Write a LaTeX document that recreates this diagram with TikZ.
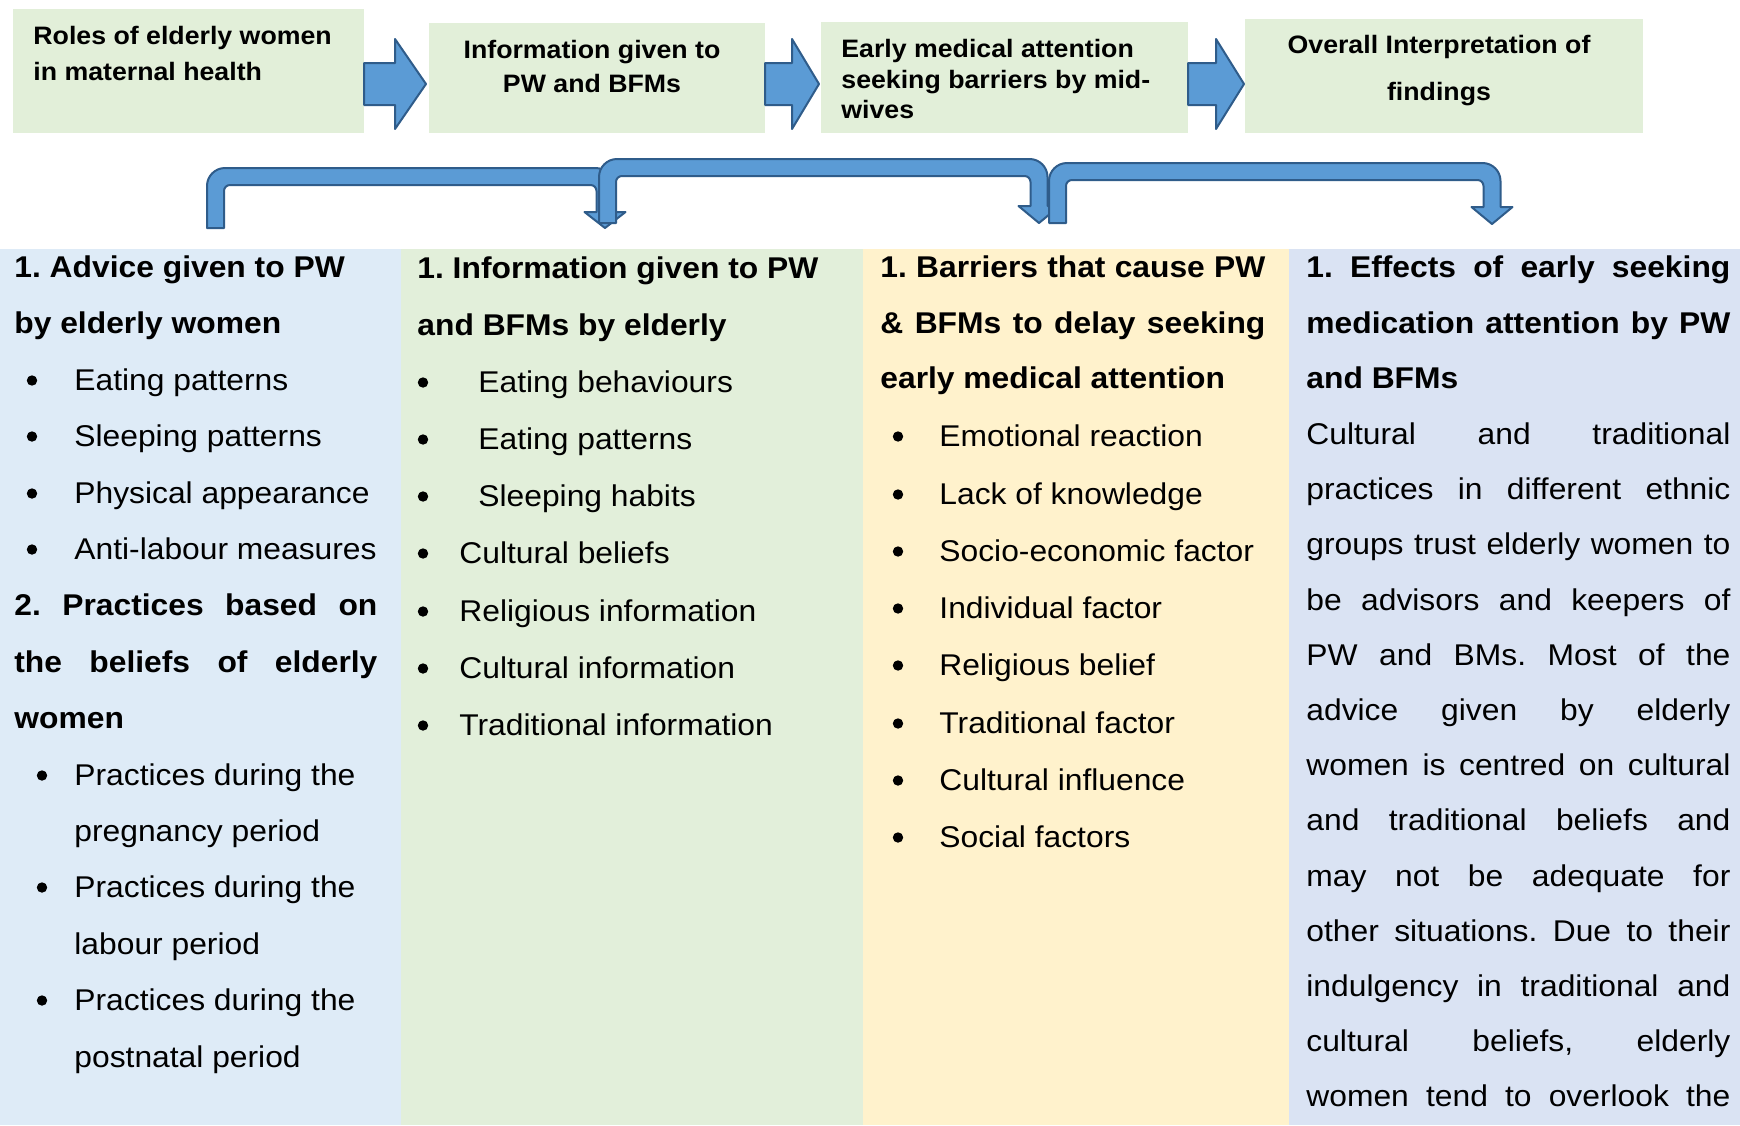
\documentclass[tikz,border=0pt]{standalone}
\usepackage{fontspec}
\setmainfont{Liberation Sans}[FakeStretch=1.06]
\usetikzlibrary{calc}
\frenchspacing
\definecolor{boxgreen}{HTML}{E2EFD9}
\definecolor{colblue}{HTML}{DEEBF7}
\definecolor{colgreen}{HTML}{E2EFDA}
\definecolor{colyellow}{HTML}{FFF2CC}
\definecolor{collav}{HTML}{DAE3F3}
\definecolor{arrfill}{HTML}{5B9BD5}
\definecolor{arrline}{HTML}{2F5C8A}
\newcommand\jline[2]{\makebox[#1][s]{#2}}
\newcommand\blockarr[2]{\draw[barrow] let \p1=(#1), \p2=(#2) in
  (\x1,\y1+10.5pt) -- ({(\x1+\x2)/2},\y1+10.5pt) -- ({(\x1+\x2)/2},\y1+22.5pt) -- (\x2,\y1)
  -- ({(\x1+\x2)/2},\y1-22.5pt) -- ({(\x1+\x2)/2},\y1-10.5pt) -- (\x1,\y1-10.5pt) -- cycle;}
\newcommand\uarr[6]{\draw[barrow] (#1-8.5,#4) -- (#1-8.5,#3-8.5+18)
  arc[start angle=180,end angle=270,radius=18] -- (#2+8.5-18,#3-8.5)
  arc[start angle=270,end angle=360,radius=18] -- (#2+8.5,#5) -- (#2+20.5,#5) -- (#2,#6)
  -- (#2-20.5,#5) -- (#2-8.5,#5) -- (#2-8.5,#3+8.5+6)
  arc[start angle=0,end angle=-90,radius=6] -- (#1+8.5+6,#3+8.5)
  arc[start angle=270,end angle=180,radius=6] -- (#1+8.5,#4) -- cycle;}
\begin{document}
\begin{tikzpicture}[x=0.5pt,y=-0.5pt,
  panel/.style={inner sep=0pt,outer sep=0pt,anchor=north west,draw=none},
  tt/.style={font=\fontsize{12.6}{15}\selectfont\bfseries,inner sep=0pt,anchor=base west},
  ttc/.style={tt,anchor=base},
  hd/.style={font=\fontsize{15}{18}\selectfont\bfseries,inner sep=0pt,anchor=base west},
  bd/.style={font=\fontsize{15}{18}\selectfont,inner sep=0pt,anchor=base west},
  bul/.style={circle,fill=black,inner sep=0pt,minimum size=5.2pt,yshift=4.75pt},
  barrow/.style={fill=arrfill,draw=arrline,line width=1pt,line join=round}]
\useasboundingbox (0,0) rectangle (1740,1125);
\fill[white] (0,0) rectangle (1740,1125);

% top boxes
\node[panel,fill=boxgreen,minimum width=175.5pt,minimum height=62pt] (b1) at (13,9) {};
\node[panel,fill=boxgreen,minimum width=168pt,minimum height=55pt] (b2) at (429,23) {};
\node[panel,fill=boxgreen,minimum width=183.5pt,minimum height=55.5pt] (b3) at (821,22) {};
\node[panel,fill=boxgreen,minimum width=199pt,minimum height=57pt] (b4) at (1245,19) {};

\node[tt] (t1a) at (33,44) {Roles of elderly women};
\node[tt] (t1b) at (33,80) {in maternal health};
\node[ttc] (t2a) at (592,58) {Information given to};
\node[ttc] (t2b) at (592,92) {PW and BFMs};
\node[tt] (t3a) at (841,57) {Early medical attention};
\node[tt] (t3b) at (841,88) {seeking barriers by mid-};
\node[tt] (t3c) at (841,118) {wives};
\node[ttc] (t4a) at (1439,53) {Overall Interpretation of};
\node[ttc] (t4b) at (1439,100) {findings};

% block arrows between top boxes
\coordinate (mid) at (0,84);
\coordinate (a1s) at (b1.east |- mid);
\coordinate (a1e) at ([xshift=-1.5pt]b2.west |- mid);
\coordinate (a2s) at (b2.east |- mid);
\coordinate (a2e) at ([xshift=-1pt]b3.west |- mid);
\coordinate (a3s) at (b3.east |- mid);
\coordinate (a3e) at ([xshift=-0.5pt]b4.west |- mid);
\blockarr{a1s}{a1e}
\blockarr{a2s}{a2e}
\blockarr{a3s}{a3e}

% column panels
\node[panel,fill=colblue,minimum width=200.5pt,minimum height=438pt] (c1) at (0,249) {};
\node[panel,fill=colgreen,minimum width=231pt,minimum height=438pt] (c2) at (401,249) {};
\node[panel,fill=colyellow,minimum width=213pt,minimum height=438pt] (c3) at (863,249) {};
\node[panel,fill=collav,minimum width=225.5pt,minimum height=438pt] (c4) at (1289,249) {};

% bent arrows
\uarr{215.5}{605}{176.5}{228}{212}{228}
\uarr{607.5}{1039}{167.5}{223}{206}{223}
\uarr{1057.5}{1492}{171.5}{223}{207}{224}

% column 1
\node[hd] (p1) at (14,277) {1. Advice given to PW};
\node[hd] (p2) at (14,333) {by elderly women};
\node[bul] (p3b) at (32,390) {}; \node[bd] (p3) at (74,390) {Eating patterns};
\node[bul] (p4b) at (32,446) {}; \node[bd] (p4) at (74,446) {Sleeping patterns};
\node[bul] (p5b) at (32,503) {}; \node[bd] (p5) at (74,503) {Physical appearance};
\node[bul] (p6b) at (32,559) {}; \node[bd] (p6) at (74,559) {Anti-labour measures};
\node[hd] (p7) at (14,615) {\jline{181.5pt}{2. Practices based on}};
\node[hd] (p8) at (14,672) {\jline{181.5pt}{the beliefs of elderly}};
\node[hd] (p9) at (14,728) {women};
\node[bul] (p10b) at (42,785) {}; \node[bd] (p10) at (74,785) {Practices during the};
\node[bd] (p11) at (74,841) {pregnancy period};
\node[bul] (p12b) at (42,897) {}; \node[bd] (p12) at (74,897) {Practices during the};
\node[bd] (p13) at (74,954) {labour period};
\node[bul] (p14b) at (42,1010) {}; \node[bd] (p14) at (74,1010) {Practices during the};
\node[bd] (p15) at (74,1067) {postnatal period};

% column 2
\node[hd] (q1) at (417,278) {1. Information given to PW};
\node[hd] (q2) at (417,335) {and BFMs by elderly};
\node[bul] (q3b) at (423,392) {}; \node[bd] (q3) at (478,392) {Eating behaviours};
\node[bul] (q4b) at (423,449) {}; \node[bd] (q4) at (478,449) {Eating patterns};
\node[bul] (q5b) at (423,506) {}; \node[bd] (q5) at (478,506) {Sleeping habits};
\node[bul] (q6b) at (423,563) {}; \node[bd] (q6) at (459,563) {Cultural beliefs};
\node[bul] (q7b) at (423,621) {}; \node[bd] (q7) at (459,621) {Religious information};
\node[bul] (q8b) at (423,678) {}; \node[bd] (q8) at (459,678) {Cultural information};
\node[bul] (q9b) at (423,735) {}; \node[bd] (q9) at (459,735) {Traditional information};

% column 3
\node[hd] (r1) at (880,277) {\jline{192.5pt}{1. Barriers that cause PW}};
\node[hd] (r2) at (880,333) {\jline{192.5pt}{\& BFMs to delay seeking}};
\node[hd] (r3) at (880,388) {early medical attention};
\node[bul] (r4b) at (898,446) {}; \node[bd] (r4) at (939,446) {Emotional reaction};
\node[bul] (r5b) at (898,504) {}; \node[bd] (r5) at (939,504) {Lack of knowledge};
\node[bul] (r6b) at (898,561) {}; \node[bd] (r6) at (939,561) {Socio-economic factor};
\node[bul] (r7b) at (898,618) {}; \node[bd] (r7) at (939,618) {Individual factor};
\node[bul] (r8b) at (898,675) {}; \node[bd] (r8) at (939,675) {Religious belief};
\node[bul] (r9b) at (898,733) {}; \node[bd] (r9) at (939,733) {Traditional factor};
\node[bul] (r10b) at (898,790) {}; \node[bd] (r10) at (939,790) {Cultural influence};
\node[bul] (r11b) at (898,847) {}; \node[bd] (r11) at (939,847) {Social factors};

% column 4
\node[hd] (s1) at (1306,277) {\jline{212pt}{1. Effects of early seeking}};
\node[hd] (s2) at (1306,333) {\jline{212pt}{medication attention by PW}};
\node[hd] (s3) at (1306,388) {and BFMs};
\node[bd] (s4) at (1306,444) {\jline{212pt}{Cultural and traditional}};
\node[bd] (s5) at (1306,499) {\jline{212pt}{practices in different ethnic}};
\node[bd] (s6) at (1306,554) {\jline{212pt}{groups trust elderly women to}};
\node[bd] (s7) at (1306,610) {\jline{212pt}{be advisors and keepers of}};
\node[bd] (s8) at (1306,665) {\jline{212pt}{PW and BMs. Most of the}};
\node[bd] (s9) at (1306,720) {\jline{212pt}{advice given by elderly}};
\node[bd] (s10) at (1306,775) {\jline{212pt}{women is centred on cultural}};
\node[bd] (s11) at (1306,830) {\jline{212pt}{and traditional beliefs and}};
\node[bd] (s12) at (1306,886) {\jline{212pt}{may not be adequate for}};
\node[bd] (s13) at (1306,941) {\jline{212pt}{other situations. Due to their}};
\node[bd] (s14) at (1306,996) {\jline{212pt}{indulgency in traditional and}};
\node[bd] (s15) at (1306,1051) {\jline{212pt}{cultural beliefs, elderly}};
\node[bd] (s16) at (1306,1106) {\jline{212pt}{women tend to overlook the}};
\end{tikzpicture}
\end{document}
